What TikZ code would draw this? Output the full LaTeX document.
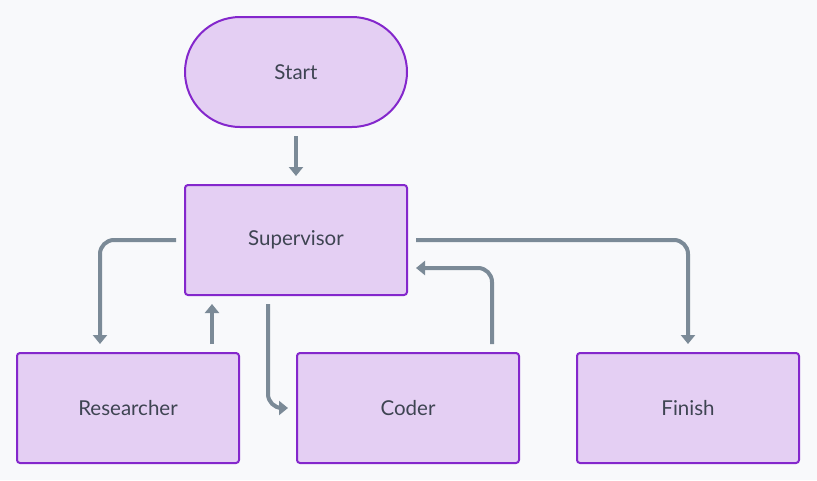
\documentclass[tikz,border=0pt]{standalone}
\usepackage{fontspec}
\setmainfont{Lato}
\usetikzlibrary{arrows.meta}

\definecolor{bgcol}{HTML}{F8F9FB}
\definecolor{boxfill}{HTML}{E4CFF3}
\definecolor{boxline}{HTML}{8427CC}
\definecolor{arrowcol}{HTML}{7B8A97}
\definecolor{textcol}{HTML}{3E4452}

\begin{document}
\begin{tikzpicture}[x=1pt, y=-1pt,
   box/.style={draw=boxline, fill=boxfill, line width=2pt, rounded corners=3pt,
     minimum width=222pt, minimum height=110pt, text=textcol, font=\fontsize{20.5}{24}\selectfont},
   stadium/.style={box, rounded corners=55pt},
   flow/.style={draw=arrowcol, line width=4pt, rounded corners=14pt,
     shorten <=8pt, shorten >=8pt, -{Triangle[length=9pt,width=14pt]}}]
   \fill[bgcol] (0,0) rectangle (817,480);
   \useasboundingbox (0,0) rectangle (817,480);

   \node[stadium] (start) at (296,72) {Start};
   \node[box] (sup) at (296,240) {Supervisor};
   \node[box] (res) at (128,408) {Researcher};
   \node[box] (cod) at (408,408) {Coder};
   \node[box] (fin) at (688,408) {Finish};

   \draw[flow] (start) -- (sup);
   \draw[flow] (sup.west) -| ([xshift=-28pt]res.north);
   \draw[flow] ([xshift=84pt]res.north) -- ([xshift=-84pt]sup.south);
   \draw[flow] ([xshift=-28pt]sup.south) |- (cod.west);
   \draw[flow] ([xshift=84pt]cod.north) |- ([yshift=-28pt]sup.east);
   \draw[flow] (sup.east) -| (fin.north);
\end{tikzpicture}
\end{document}
